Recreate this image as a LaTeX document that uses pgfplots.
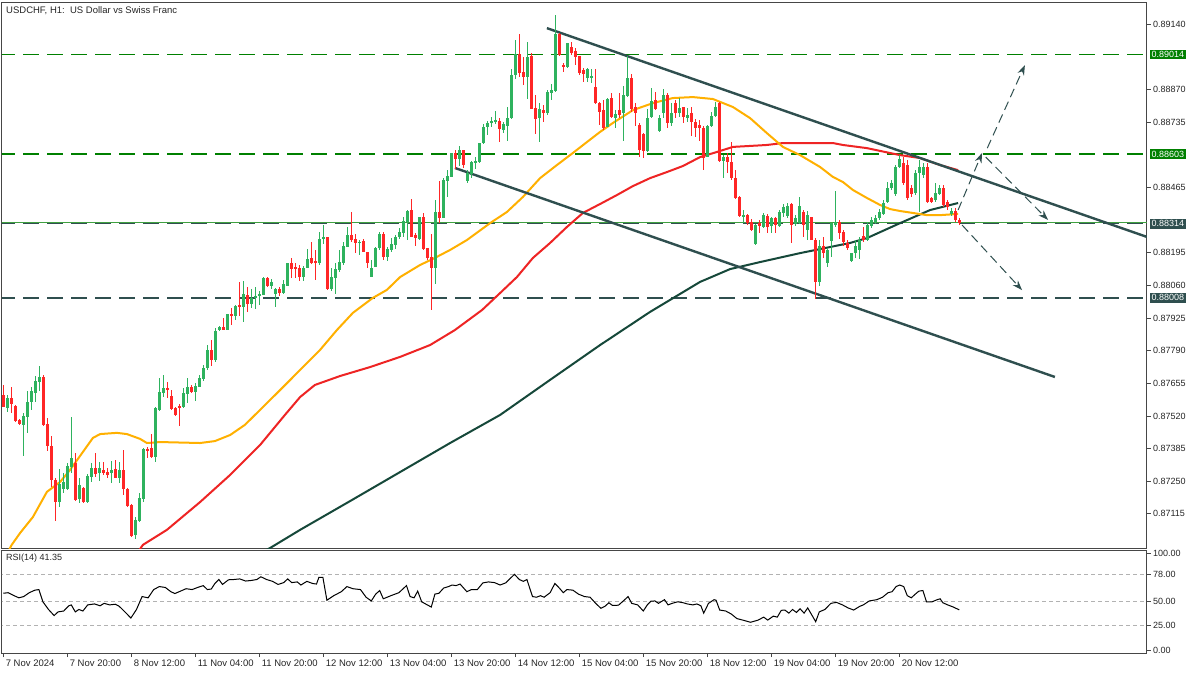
\documentclass[border=0pt]{standalone}
\usepackage{pgfplots}
\pgfplotsset{compat=1.18}
\usepackage{pgfplotstable}
\usepackage{fontspec}
\setmainfont{Liberation Sans}
\usetikzlibrary{arrows.meta}

\definecolor{bull}{RGB}{46,178,94}
\definecolor{bear}{RGB}{255,38,38}
\definecolor{maY}{RGB}{255,176,0}
\definecolor{maR}{RGB}{238,36,36}
\definecolor{maG}{RGB}{22,72,58}
\definecolor{slate}{RGB}{47,79,79}
\definecolor{lvlgreen}{RGB}{0,128,0}
\definecolor{frm}{RGB}{70,70,70}

\pgfplotstableread{
k o h l c
0 0.87606 0.87648 0.87557 0.87557
1 0.87553 0.87606 0.87536 0.87594
2 0.87594 0.87640 0.87532 0.87569
3 0.87565 0.87569 0.87495 0.87499
4 0.87503 0.87507 0.87483 0.87487
5 0.87483 0.87532 0.87354 0.87520
6 0.87516 0.87623 0.87449 0.87578
7 0.87578 0.87640 0.87544 0.87623
8 0.87615 0.87685 0.87578 0.87664
9 0.87660 0.87726 0.87623 0.87681
10 0.87681 0.87689 0.87478 0.87483
11 0.87487 0.87511 0.87375 0.87396
12 0.87396 0.87437 0.87226 0.87255
13 0.87255 0.87263 0.87086 0.87164
14 0.87164 0.87301 0.87144 0.87239
15 0.87218 0.87284 0.87202 0.87247
16 0.87218 0.87325 0.87214 0.87313
17 0.87309 0.87516 0.87284 0.87346
18 0.87325 0.87367 0.87168 0.87173
19 0.87177 0.87263 0.87160 0.87235
20 0.87222 0.87226 0.87160 0.87164
21 0.87164 0.87280 0.87160 0.87272
22 0.87268 0.87325 0.87247 0.87305
23 0.87305 0.87367 0.87268 0.87280
24 0.87284 0.87330 0.87251 0.87305
25 0.87296 0.87330 0.87276 0.87284
26 0.87288 0.87305 0.87263 0.87276
27 0.87284 0.87334 0.87243 0.87296
28 0.87301 0.87338 0.87263 0.87263
29 0.87263 0.87330 0.87243 0.87296
30 0.87296 0.87379 0.87193 0.87218
31 0.87218 0.87222 0.87144 0.87148
32 0.87152 0.87156 0.87020 0.87024
33 0.87028 0.87102 0.87011 0.87090
34 0.87086 0.87202 0.87081 0.87181
35 0.87177 0.87388 0.87164 0.87383
36 0.87383 0.87392 0.87346 0.87375
37 0.87388 0.87445 0.87346 0.87350
38 0.87350 0.87557 0.87330 0.87553
39 0.87544 0.87677 0.87540 0.87619
40 0.87615 0.87689 0.87598 0.87636
41 0.87636 0.87660 0.87594 0.87627
42 0.87602 0.87627 0.87544 0.87549
43 0.87553 0.87557 0.87520 0.87524
44 0.87561 0.87569 0.87478 0.87557
45 0.87557 0.87636 0.87553 0.87615
46 0.87611 0.87677 0.87573 0.87640
47 0.87640 0.87648 0.87615 0.87619
48 0.87619 0.87656 0.87582 0.87644
49 0.87640 0.87689 0.87640 0.87677
50 0.87673 0.87730 0.87664 0.87718
51 0.87718 0.87813 0.87710 0.87792
52 0.87792 0.87834 0.87730 0.87751
53 0.87751 0.87883 0.87743 0.87871
54 0.87875 0.87892 0.87871 0.87888
55 0.87888 0.87925 0.87875 0.87875
56 0.87875 0.87941 0.87875 0.87941
57 0.87941 0.87966 0.87896 0.87933
58 0.87933 0.87978 0.87916 0.87974
59 0.87978 0.88074 0.87933 0.87970
60 0.87970 0.88078 0.87908 0.88024
61 0.88020 0.88053 0.87950 0.87983
62 0.87983 0.88045 0.87966 0.88007
63 0.88007 0.88053 0.87962 0.88016
64 0.88016 0.88036 0.87978 0.88024
65 0.88020 0.88094 0.88020 0.88090
66 0.88090 0.88094 0.88053 0.88057
67 0.88057 0.88086 0.88045 0.88074
68 0.88024 0.88049 0.87970 0.88045
69 0.88045 0.88053 0.88016 0.88028
70 0.88028 0.88082 0.88024 0.88065
71 0.88057 0.88152 0.88057 0.88152
72 0.88152 0.88173 0.88090 0.88127
73 0.88135 0.88152 0.88090 0.88127
74 0.88135 0.88144 0.88078 0.88094
75 0.88094 0.88140 0.88078 0.88135
76 0.88131 0.88210 0.88131 0.88169
77 0.88173 0.88239 0.88148 0.88152
78 0.88160 0.88206 0.88082 0.88152
79 0.88152 0.88280 0.88144 0.88251
80 0.88251 0.88309 0.88231 0.88259
81 0.88259 0.88259 0.88040 0.88045
82 0.88045 0.88131 0.88036 0.88094
83 0.88090 0.88156 0.88028 0.88127
84 0.88123 0.88206 0.88115 0.88156
85 0.88152 0.88239 0.88144 0.88222
86 0.88218 0.88301 0.88218 0.88268
87 0.88268 0.88363 0.88239 0.88247
88 0.88251 0.88272 0.88193 0.88235
89 0.88235 0.88247 0.88185 0.88239
90 0.88243 0.88251 0.88198 0.88198
91 0.88198 0.88198 0.88135 0.88152
92 0.88094 0.88164 0.88094 0.88135
93 0.88135 0.88218 0.88135 0.88214
94 0.88214 0.88280 0.88206 0.88272
95 0.88272 0.88280 0.88164 0.88177
96 0.88177 0.88218 0.88160 0.88210
97 0.88206 0.88255 0.88198 0.88231
98 0.88226 0.88268 0.88210 0.88259
99 0.88259 0.88297 0.88251 0.88280
100 0.88276 0.88342 0.88259 0.88326
101 0.88322 0.88371 0.88247 0.88367
102 0.88371 0.88417 0.88259 0.88259
103 0.88268 0.88276 0.88222 0.88255
104 0.88251 0.88342 0.88247 0.88342
105 0.88342 0.88359 0.88206 0.88210
106 0.88214 0.88214 0.88164 0.88173
107 0.88177 0.88272 0.87958 0.88131
108 0.88131 0.88412 0.88065 0.88363
109 0.88363 0.88491 0.88317 0.88338
110 0.88338 0.88503 0.88338 0.88495
111 0.88491 0.88536 0.88425 0.88512
112 0.88507 0.88607 0.88507 0.88607
113 0.88607 0.88619 0.88540 0.88582
114 0.88582 0.88636 0.88553 0.88619
115 0.88619 0.88619 0.88545 0.88557
116 0.88491 0.88540 0.88483 0.88524
117 0.88520 0.88574 0.88507 0.88570
118 0.88565 0.88590 0.88540 0.88574
119 0.88570 0.88648 0.88565 0.88648
120 0.88648 0.88727 0.88644 0.88714
121 0.88714 0.88739 0.88681 0.88731
122 0.88731 0.88755 0.88714 0.88739
123 0.88739 0.88784 0.88727 0.88743
124 0.88739 0.88755 0.88652 0.88706
125 0.88702 0.88735 0.88689 0.88727
126 0.88722 0.88797 0.88656 0.88755
127 0.88751 0.88954 0.88747 0.88929
128 0.88929 0.89074 0.88912 0.89016
129 0.89016 0.89098 0.88921 0.88941
130 0.88941 0.89003 0.88888 0.88921
131 0.88921 0.89065 0.88830 0.89003
132 0.89008 0.89020 0.88789 0.88789
133 0.88793 0.88846 0.88685 0.88747
134 0.88751 0.88813 0.88652 0.88789
135 0.88784 0.88805 0.88735 0.88772
136 0.88772 0.88867 0.88764 0.88859
137 0.88855 0.88892 0.88826 0.88867
138 0.88863 0.89177 0.88859 0.89098
139 0.89098 0.89103 0.89008 0.89012
140 0.88970 0.88979 0.88941 0.88962
141 0.88962 0.89065 0.88958 0.89061
142 0.89045 0.89065 0.89012 0.89020
143 0.89028 0.89041 0.88970 0.89003
144 0.89008 0.89008 0.88929 0.88937
145 0.88950 0.88958 0.88900 0.88933
146 0.88917 0.88958 0.88900 0.88954
147 0.88917 0.88954 0.88896 0.88925
148 0.88879 0.88954 0.88809 0.88813
149 0.88813 0.88817 0.88722 0.88776
150 0.88784 0.88826 0.88702 0.88710
151 0.88714 0.88834 0.88714 0.88830
152 0.88834 0.88855 0.88751 0.88755
153 0.88755 0.88784 0.88710 0.88768
154 0.88784 0.88855 0.88751 0.88764
155 0.88772 0.88884 0.88656 0.88846
156 0.88842 0.89008 0.88838 0.88917
157 0.88917 0.88933 0.88776 0.88789
158 0.88797 0.88813 0.88722 0.88772
159 0.88722 0.88731 0.88590 0.88619
160 0.88685 0.88689 0.88586 0.88615
161 0.88615 0.88789 0.88611 0.88751
162 0.88755 0.88875 0.88751 0.88822
163 0.88826 0.88859 0.88784 0.88789
164 0.88698 0.88764 0.88693 0.88751
165 0.88772 0.88871 0.88751 0.88846
166 0.88846 0.88855 0.88710 0.88731
167 0.88731 0.88813 0.88722 0.88772
168 0.88813 0.88826 0.88751 0.88772
169 0.88772 0.88834 0.88755 0.88793
170 0.88797 0.88797 0.88731 0.88755
171 0.88751 0.88793 0.88735 0.88764
172 0.88772 0.88797 0.88677 0.88735
173 0.88735 0.88747 0.88673 0.88710
174 0.88722 0.88743 0.88656 0.88710
175 0.88714 0.88718 0.88536 0.88590
176 0.88590 0.88722 0.88590 0.88718
177 0.88718 0.88776 0.88714 0.88760
178 0.88760 0.88817 0.88755 0.88797
179 0.88813 0.88817 0.88569 0.88574
180 0.88574 0.88598 0.88507 0.88590
181 0.88590 0.88607 0.88524 0.88569
182 0.88569 0.88652 0.88495 0.88503
183 0.88503 0.88536 0.88417 0.88421
184 0.88425 0.88429 0.88342 0.88346
185 0.88342 0.88371 0.88317 0.88350
186 0.88350 0.88355 0.88309 0.88317
187 0.88322 0.88334 0.88284 0.88288
188 0.88231 0.88313 0.88226 0.88309
189 0.88317 0.88330 0.88276 0.88305
190 0.88301 0.88359 0.88297 0.88350
191 0.88346 0.88355 0.88276 0.88301
192 0.88305 0.88342 0.88276 0.88338
193 0.88338 0.88342 0.88276 0.88309
194 0.88305 0.88371 0.88301 0.88363
195 0.88359 0.88396 0.88342 0.88383
196 0.88346 0.88400 0.88338 0.88388
197 0.88396 0.88400 0.88235 0.88309
198 0.88313 0.88350 0.88305 0.88338
199 0.88317 0.88425 0.88313 0.88388
200 0.88363 0.88371 0.88259 0.88309
201 0.88288 0.88367 0.88247 0.88350
202 0.88342 0.88342 0.88247 0.88247
203 0.88247 0.88255 0.88003 0.88074
204 0.88074 0.88247 0.88057 0.88222
205 0.88222 0.88259 0.88173 0.88193
206 0.88152 0.88214 0.88135 0.88206
207 0.88243 0.88317 0.88177 0.88317
208 0.88309 0.88450 0.88301 0.88322
209 0.88322 0.88330 0.88251 0.88276
210 0.88280 0.88288 0.88222 0.88239
211 0.88235 0.88247 0.88206 0.88214
212 0.88160 0.88193 0.88156 0.88193
213 0.88193 0.88247 0.88173 0.88222
214 0.88206 0.88259 0.88169 0.88247
215 0.88264 0.88305 0.88239 0.88247
216 0.88247 0.88322 0.88243 0.88309
217 0.88305 0.88342 0.88297 0.88330
218 0.88322 0.88350 0.88313 0.88338
219 0.88338 0.88375 0.88330 0.88363
220 0.88355 0.88412 0.88350 0.88400
221 0.88404 0.88487 0.88400 0.88462
222 0.88462 0.88495 0.88454 0.88483
223 0.88437 0.88557 0.88429 0.88549
224 0.88549 0.88598 0.88545 0.88582
225 0.88565 0.88590 0.88474 0.88483
226 0.88557 0.88578 0.88412 0.88421
227 0.88462 0.88474 0.88425 0.88437
228 0.88441 0.88536 0.88433 0.88524
229 0.88524 0.88578 0.88363 0.88549
230 0.88516 0.88565 0.88503 0.88549
231 0.88549 0.88565 0.88400 0.88404
232 0.88421 0.88425 0.88400 0.88404
233 0.88412 0.88483 0.88404 0.88441
234 0.88437 0.88474 0.88433 0.88462
235 0.88462 0.88474 0.88383 0.88392
236 0.88404 0.88412 0.88371 0.88383
237 0.88355 0.88379 0.88346 0.88367
238 0.88367 0.88379 0.88322 0.88330
239 0.88330 0.88338 0.88309 0.88317
}\candles

\pgfplotsset{
  candlewick/.style 2 args={draw=none, mark=none, forget plot, unbounded coords=discard,
    error bars/.cd, y dir=both, y explicit, error mark=none,
    error bar style={draw=#1, line width=#2}},
}

\begin{document}
\begin{tikzpicture}
\path[use as bounding box] (0,0) rectangle (1200pt,-675pt);
\fill[white] (0,0) rectangle (1200pt,-675pt);

% ---------------- main price panel ----------------
\begin{axis}[
  at={(2pt,-2pt)}, anchor=north west,
  width=1145pt, height=546pt, scale only axis,
  xmin=-0.325, xmax=285.925, ymin=0.86974, ymax=0.89231,
  axis line style={frm, line width=1pt},
  xtick=\empty,
  ytick={0.89140,0.88870,0.88735,0.88465,0.88195,0.88060,0.87925,0.87790,0.87655,0.87520,0.87385,0.87250,0.87115},
  yticklabels={0.89140,0.88870,0.88735,0.88465,0.88195,0.88060,0.87925,0.87790,0.87655,0.87520,0.87385,0.87250,0.87115},
  ytick pos=right, yticklabel pos=right, tick align=outside,
  major tick length=4pt,
  tick style={frm, line width=0.8pt},
  y tick label style={font=\fontsize{9}{10}\selectfont, text=black!85, xshift=-1.5pt},
  clip mode=individual,
]
% levels
\addplot[lvlgreen, line width=1.3pt, dash pattern=on 16pt off 8pt, forget plot] coordinates {(-1,0.89014) (290,0.89014)};
\addplot[lvlgreen, line width=1.3pt, dash pattern=on 16pt off 8pt, forget plot] coordinates {(-1,0.88603) (290,0.88603)};
\addplot[slate, line width=1.3pt, dash pattern=on 16pt off 8pt, forget plot] coordinates {(-1,0.88314) (290,0.88314)};
\addplot[slate, line width=1.3pt, dash pattern=on 16pt off 8pt, forget plot] coordinates {(-1,0.88008) (290,0.88008)};
% bid line
\addplot[lvlgreen!75!white, line width=0.8pt, forget plot] coordinates {(-1,0.88322) (290,0.88322)};

% moving averages
\addplot[maG, line width=2pt] coordinates {(64.7,0.86958) (66.7,0.86974) (74.2,0.87049) (86.7,0.87168) (99.2,0.87288) (111.7,0.87408) (124.2,0.87524) (136.7,0.87669) (149.2,0.87813) (161.7,0.87950) (174.2,0.88074) (181.7,0.88127) (189.2,0.88156) (199.2,0.88193) (211.7,0.88235) (215.9,0.88255) (224.2,0.88317) (231.7,0.88371) (238.7,0.88400)};
\addplot[maR, line width=2pt] coordinates {(33.7,0.86958) (34.9,0.86987) (40.9,0.87049) (49.2,0.87164) (56.7,0.87276) (64.2,0.87400) (70.4,0.87524) (74.2,0.87598) (77.9,0.87648) (84.2,0.87685) (91.7,0.87722) (99.2,0.87764) (106.7,0.87813) (112.9,0.87875) (119.7,0.87958) (124.2,0.88028) (128.4,0.88094) (132.4,0.88173) (136.7,0.88235) (140.9,0.88301) (144.9,0.88359) (149.2,0.88396) (153.4,0.88433) (157.4,0.88470) (161.7,0.88503) (165.9,0.88528) (169.9,0.88553) (174.2,0.88590) (178.4,0.88611) (182.4,0.88632) (186.7,0.88636) (190.9,0.88640) (194.9,0.88648) (199.2,0.88648) (207.4,0.88648) (209.9,0.88640) (215.9,0.88627) (224.2,0.88598) (229.2,0.88586) (234.2,0.88557) (238.7,0.88536)};
\addplot[maY, line width=2pt] coordinates {(1.2,0.86958) (2.1,0.86987) (4.2,0.87036) (7.4,0.87102) (10.9,0.87206) (14.2,0.87247) (16.7,0.87297) (19.9,0.87371) (22.4,0.87429) (24.2,0.87445) (28.4,0.87450) (30.9,0.87445) (34.2,0.87425) (35.9,0.87408) (39.2,0.87412) (49.2,0.87408) (52.9,0.87416) (56.7,0.87441) (60.4,0.87483) (64.2,0.87545) (69.2,0.87627) (74.2,0.87710) (79.2,0.87793) (83.4,0.87875) (87.4,0.87946) (92.4,0.88008) (95.9,0.88041) (99.2,0.88094) (104.2,0.88144) (107.4,0.88169) (111.7,0.88206) (115.9,0.88247) (121.7,0.88317) (125.9,0.88363) (129.9,0.88425) (134.2,0.88503) (138.4,0.88557) (142.4,0.88607) (145.9,0.88652) (149.2,0.88694) (152.4,0.88731) (157.4,0.88784) (162.4,0.88813) (167.4,0.88834) (172.4,0.88838) (177.4,0.88830) (182.4,0.88797) (186.7,0.88751) (190.9,0.88689) (194.9,0.88632) (199.2,0.88598) (204.2,0.88549) (207.4,0.88508) (209.9,0.88487) (212.4,0.88454) (215.9,0.88421) (219.2,0.88392) (221.7,0.88375) (224.2,0.88367) (227.4,0.88359) (230.9,0.88350) (234.2,0.88350) (238.7,0.88355)};

% trend channel
\addplot[slate, line width=2.4pt] coordinates {(135.9,0.89123) (285.9,0.88260)};
\addplot[slate, line width=2.4pt] coordinates {(112.9,0.88545) (262.9,0.87681)};

% candles: wicks
\addplot[candlewick={bull}{1pt}] table[x=k, y expr={\thisrow{c}>=\thisrow{o} ? (\thisrow{h}+\thisrow{l})/2 : nan}, y error expr={(\thisrow{h}-\thisrow{l})/2}] {\candles};
\addplot[candlewick={bear}{1pt}] table[x=k, y expr={\thisrow{c}<\thisrow{o} ? (\thisrow{h}+\thisrow{l})/2 : nan}, y error expr={(\thisrow{h}-\thisrow{l})/2}] {\candles};
% candles: bodies
\addplot[candlewick={bull}{3pt}] table[x=k, y expr={\thisrow{c}>=\thisrow{o} ? (\thisrow{o}+\thisrow{c})/2 : nan}, y error expr={max(abs(\thisrow{c}-\thisrow{o})/2,0.000012)}] {\candles};
\addplot[candlewick={bear}{3pt}] table[x=k, y expr={\thisrow{c}<\thisrow{o} ? (\thisrow{o}+\thisrow{c})/2 : nan}, y error expr={max(abs(\thisrow{c}-\thisrow{o})/2,0.000012)}] {\candles};

% scenario arrows
\addplot[slate, line width=1pt, dash pattern=on 9pt off 5pt, -{Stealth[length=10pt,width=7pt]}] coordinates {(238.7,0.88371) (244.7,0.88607)};
\addplot[slate, line width=1pt, dash pattern=on 9pt off 5pt, -{Stealth[length=10pt,width=7pt]}] coordinates {(246.0,0.88627) (255.4,0.88970)};
\addplot[slate, line width=1pt, dash pattern=on 9pt off 5pt, -{Stealth[length=10pt,width=7pt]}] coordinates {(245.6,0.88590) (261.2,0.88330)};
\addplot[slate, line width=1pt, dash pattern=on 9pt off 5pt, -{Stealth[length=10pt,width=7pt]}] coordinates {(239.7,0.88309) (254.7,0.88040)};

% title and level labels
\node[anchor=north west, inner sep=0pt, font=\fontsize{9.5}{11}\selectfont, text=black!85] at (rel axis cs:0,1) [xshift=4pt, yshift=-4pt] {USDCHF, H1:\ \ US Dollar vs Swiss Franc};
\node[anchor=west, fill=lvlgreen, text=white, inner xsep=2pt, inner ysep=1.5pt, font=\fontsize{9}{10}\selectfont] at (axis cs:285.925,0.89014) [xshift=2.5pt] {0.89014};
\node[anchor=west, fill=lvlgreen, text=white, inner xsep=2pt, inner ysep=1.5pt, font=\fontsize{9}{10}\selectfont] at (axis cs:285.925,0.88603) [xshift=2.5pt] {0.88603};
\node[anchor=west, fill=slate, text=white, inner xsep=2pt, inner ysep=1.5pt, font=\fontsize{9}{10}\selectfont] at (axis cs:285.925,0.88314) [xshift=2.5pt] {0.88314};
\node[anchor=west, fill=slate, text=white, inner xsep=2pt, inner ysep=1.5pt, font=\fontsize{9}{10}\selectfont] at (axis cs:285.925,0.88008) [xshift=2.5pt] {0.88008};
\end{axis}

% ---------------- RSI panel ----------------
\begin{axis}[
  at={(2pt,-550pt)}, anchor=north west,
  width=1145pt, height=103pt, scale only axis,
  xmin=-0.325, xmax=285.925, ymin=-3.1, ymax=103.1,
  axis line style={frm, line width=1pt},
  ytick={0,25,50,78,100},
  yticklabels={0.00,25.00,50.00,78.00,100.00},
  ytick pos=right, yticklabel pos=right,
  xtick={0,16,32,48,64,80,96,112,128,144,160,176,192,208,224},
  xticklabels={7 Nov 2024,7 Nov 20:00,8 Nov 12:00,11 Nov 04:00,11 Nov 20:00,12 Nov 12:00,13 Nov 04:00,13 Nov 20:00,14 Nov 12:00,15 Nov 04:00,15 Nov 20:00,18 Nov 12:00,19 Nov 04:00,19 Nov 20:00,20 Nov 12:00},
  xtick pos=bottom, tick align=outside, major tick length=4pt,
  tick style={frm, line width=0.8pt},
  y tick label style={font=\fontsize{9}{10}\selectfont, text=black!85, xshift=-1.5pt},
  x tick label style={font=\fontsize{9.5}{11}\selectfont, text=black!85, anchor=north west, xshift=-1pt, yshift=1pt},
  clip mode=individual,
]
\addplot[black!30, line width=0.8pt, dash pattern=on 4pt off 3pt] coordinates {(-1,78) (290,78)};
\addplot[black!30, line width=0.8pt, dash pattern=on 4pt off 3pt] coordinates {(-1,50) (290,50)};
\addplot[black!30, line width=0.8pt, dash pattern=on 4pt off 3pt] coordinates {(-1,25) (290,25)};
\addplot[black, line width=1pt] coordinates {
(0,58.5) (1.2,59.1) (2.7,56.0) (3.9,53.8) (5.1,55.1) (6.5,59.1) (7.9,61.7) (8.9,62.3) (9.9,49.7) (11.3,41.8) (12.7,35.5) (13.7,39.3) (15.1,40.2) (16.4,45.6) (17.0,46.5) (18.0,39.3) (18.9,41.8) (19.9,40.2) (21.1,46.5) (22.8,47.5) (24.2,45.6) (25.2,48.1) (26.6,46.5) (28.0,47.2) (29.0,45.0) (30.4,39.3) (31.9,33.0) (33.3,41.8) (34.7,55.1) (36.2,53.8) (37.6,62.3) (39.0,65.4) (40.5,64.5) (41.9,60.1) (42.9,58.2) (44.3,60.7) (45.7,63.2) (47.2,62.3) (48.6,64.5) (50.0,66.4) (51.0,62.3) (52.0,62.9) (52.9,68.6) (53.9,72.7) (54.8,67.6) (56.3,72.4) (57.7,72.7) (59.1,73.3) (60.6,71.1) (62.0,71.7) (63.4,72.7) (64.4,75.5) (65.8,72.7) (67.3,70.8) (68.7,67.6) (70.1,69.5) (71.1,73.3) (72.1,69.5) (73.5,70.2) (74.4,67.0) (75.9,70.8) (77.3,68.6) (78.3,68.0) (78.9,74.9) (79.9,74.9) (80.9,51.3) (82.6,56.0) (84.5,60.1) (85.9,65.4) (87.4,63.2) (89.3,62.3) (90.7,54.4) (92.0,50.6) (93.1,57.6) (94.1,61.3) (95.0,52.8) (96.9,56.0) (98.9,59.1) (100.8,66.4) (101.7,55.1) (102.7,53.8) (103.6,60.7) (104.6,49.7) (106.0,46.5) (107.0,44.3) (107.9,57.6) (108.9,58.5) (110.1,63.9) (111.3,65.4) (112.2,67.0) (113.2,66.4) (114.2,68.0) (115.9,60.1) (117.0,62.3) (118.5,62.3) (119.9,69.2) (121.3,70.2) (122.8,69.5) (124.2,67.0) (125.6,69.2) (126.6,73.3) (127.8,78.0) (129.0,72.7) (130.0,70.8) (130.9,72.7) (132.3,55.1) (133.3,54.4) (134.3,56.0) (135.2,54.4) (136.7,59.1) (137.9,68.6) (139.0,63.9) (140.0,59.1) (140.9,62.3) (142.4,61.7) (143.8,57.6) (145.3,55.1) (146.7,54.4) (148.1,48.1) (149.4,43.0)
(150.4,45.0) (151.4,48.7) (152.3,45.9) (153.8,46.2) (155.2,51.3) (156.2,55.1) (157.1,48.1) (158.6,46.5) (160.0,40.2) (161.0,46.5) (161.9,50.3) (162.9,50.6) (163.8,48.1) (165.3,51.9) (166.2,46.5) (167.2,48.1) (168.6,49.7) (170.0,48.7) (171.0,47.5) (172.4,46.5) (173.4,47.5) (174.4,45.6) (175.1,38.0) (176.3,48.1) (177.7,51.9) (178.2,51.3) (179.1,41.2) (180.6,40.2) (182.0,37.1) (183.4,32.4) (184.9,30.8) (186.8,28.6) (188.7,30.8) (190.1,33.9) (191.1,30.8) (192.5,34.9) (193.5,33.9) (194.5,40.9) (195.4,41.2) (196.4,38.0) (197.3,41.8) (198.3,38.7) (199.2,42.5) (200.2,38.0) (201.1,43.4) (203.1,29.2) (204.0,39.3) (205.4,41.8) (206.9,48.1) (208.3,49.1) (209.8,46.5) (211.2,43.4) (212.6,41.2) (214.1,45.0) (215.0,46.5) (216.5,50.6) (218.4,51.9) (219.8,54.4) (221.2,59.1) (222.2,60.1) (223.2,65.4) (224.1,67.0) (225.1,65.4) (226.0,56.0) (227.0,53.8) (228.0,57.6) (228.9,60.7) (229.9,61.3) (230.8,49.7) (232.2,49.7) (233.5,51.9) (234.2,52.8) (234.9,48.7) (236.1,46.5) (237.5,44.3) (239.0,41.35)};
\node[anchor=north west, inner sep=0pt, font=\fontsize{9}{10}\selectfont, text=black!85] at (rel axis cs:0,1) [xshift=4pt, yshift=-4pt] {RSI(14) 41.35};
\end{axis}
\end{tikzpicture}
\end{document}
